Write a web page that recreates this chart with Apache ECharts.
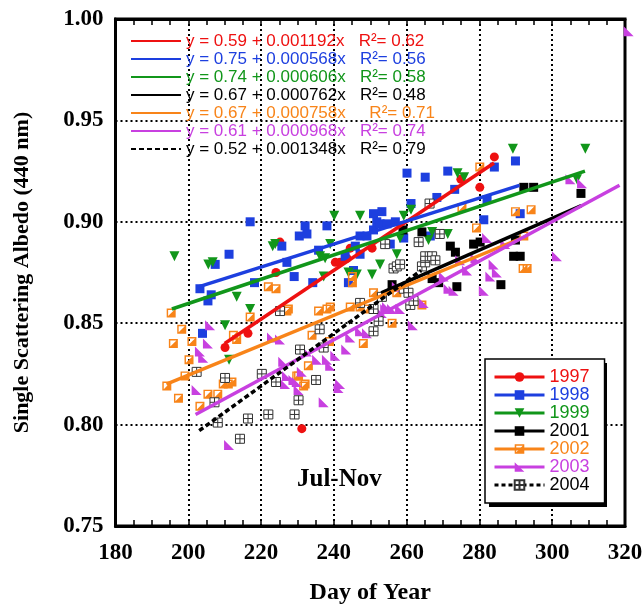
<!DOCTYPE html>
<html>
<head>
<meta charset="utf-8">
<script src="https://cdn.jsdelivr.net/npm/echarts@6/dist/echarts.min.js"></script>
<style>
  html, body { margin: 0; background: #fff; }
  #main { width: 644px; height: 610px; }
</style>
</head>
<body>
<div id="main"></div>
<script>
// years + styling lookups
const years = ['1997', '1998', '1999', '2001', '2002', '2003', '2004']
const colors = ['#ee1111', '#1d3fdf', '#11961a', '#000000', '#f88419', '#c840e0', '#000000']
const fitText = [
  'y = 0.59 + 0.001192x',
  'y = 0.75 + 0.000568x',
  'y = 0.74 + 0.000606x',
  'y = 0.67 + 0.000762x',
  'y = 0.67 + 0.000758x',
  'y = 0.61 + 0.000968x',
  'y = 0.52 + 0.001348x'
]
const r2Text = ['0.62', '0.56', '0.58', '0.48', '0.71', '0.74', '0.79']
const xTicks = [180, 320, 20]
const yTicks = [0.75, 1.0, 0.05]

// measured points [day, albedo]
const pts1997 = [[210.1, 0.838], [216.4, 0.845], [224.1, 0.875], [225.2, 0.890], [231.2, 0.798], [240.4, 0.880], [241.7, 0.880], [243.6, 0.882], [244.5, 0.887], [250.5, 0.887], [274.9, 0.921], [280.1, 0.917], [284.1, 0.932]]
const pts1998 = [[203.2, 0.867], [203.9, 0.845], [205.4, 0.861], [206.3, 0.864], [207.4, 0.879], [211.2, 0.884], [217.0, 0.900], [218.2, 0.870], [225.7, 0.888], [227.1, 0.880], [229.1, 0.873], [230.5, 0.893], [232.1, 0.898], [232.6, 0.894], [234.2, 0.870], [235.8, 0.886], [238.1, 0.898], [243.1, 0.883], [244.0, 0.870], [245.4, 0.876], [245.9, 0.888], [247.2, 0.884], [247.2, 0.893], [249.1, 0.893], [250.9, 0.896], [250.9, 0.904], [251.8, 0.900], [252.7, 0.899], [253.2, 0.905], [254.6, 0.899], [255.5, 0.889], [256.9, 0.900], [259.2, 0.892], [260.1, 0.924], [261.2, 0.909], [265.1, 0.922], [266.5, 0.893], [268.3, 0.912], [271.3, 0.925], [273.2, 0.916], [281.2, 0.901], [282.1, 0.911], [284.1, 0.927], [289.9, 0.930], [291.2, 0.904]]
const pts1999 = [[196.2, 0.883], [205.5, 0.879], [206.7, 0.880], [210.1, 0.849], [211.2, 0.832], [213.3, 0.863], [217.0, 0.857], [223.2, 0.888], [223.9, 0.889], [236.2, 0.883], [237.2, 0.873], [237.6, 0.882], [239.0, 0.889], [240.1, 0.903], [244.0, 0.875], [246.3, 0.874], [247.2, 0.903], [250.5, 0.874], [252.7, 0.879], [257.3, 0.884], [258.2, 0.892], [259.2, 0.903], [261.2, 0.906], [266.0, 0.891], [267.0, 0.895], [271.3, 0.894], [274.0, 0.924], [275.8, 0.922], [289.2, 0.936], [306.8, 0.921], [309.1, 0.936]]
const pts2001 = [[256.0, 0.869], [259.0, 0.896], [264.2, 0.895], [267.0, 0.872], [268.8, 0.870], [272.0, 0.888], [273.4, 0.885], [273.8, 0.868], [278.4, 0.889], [280.2, 0.890], [285.9, 0.869], [289.4, 0.883], [289.9, 0.891], [291.2, 0.883], [292.2, 0.917], [294.9, 0.917], [307.9, 0.914]]
const pts2002 = [[194.1, 0.819], [195.3, 0.855], [195.9, 0.840], [197.3, 0.813], [198.2, 0.847], [199.1, 0.824], [200.2, 0.832], [201.0, 0.841], [203.2, 0.809], [205.4, 0.815], [208.1, 0.815], [209.6, 0.820], [211.0, 0.820], [212.0, 0.821], [212.4, 0.844], [213.3, 0.842], [217.0, 0.853], [222.0, 0.868], [224.1, 0.867], [227.1, 0.856], [227.5, 0.857], [229.8, 0.824], [230.3, 0.824], [231.7, 0.819], [232.1, 0.820], [233.0, 0.829], [234.0, 0.844], [235.8, 0.856], [238.1, 0.857], [238.8, 0.841], [239.0, 0.858], [244.5, 0.858], [245.1, 0.870], [245.1, 0.873], [247.2, 0.858], [248.1, 0.840], [249.1, 0.857], [250.9, 0.865], [256.0, 0.850], [257.3, 0.865], [264.2, 0.859], [275.2, 0.907], [279.2, 0.897], [280.1, 0.927], [289.9, 0.905], [292.0, 0.877], [292.2, 0.893], [293.1, 0.877], [294.2, 0.906]]
const pts2003 = [[202.3, 0.817], [203.2, 0.836], [204.1, 0.833], [205.4, 0.840], [206.0, 0.849], [211.2, 0.790], [223.0, 0.843], [225.2, 0.842], [226.1, 0.831], [226.6, 0.820], [227.1, 0.824], [228.9, 0.822], [229.8, 0.821], [230.3, 0.817], [231.2, 0.826], [232.6, 0.836], [235.4, 0.832], [237.2, 0.811], [238.1, 0.832], [239.0, 0.829], [240.4, 0.834], [241.3, 0.818], [241.7, 0.820], [243.4, 0.837], [244.5, 0.843], [247.2, 0.846], [249.1, 0.845], [253.2, 0.855], [254.1, 0.857], [254.6, 0.858], [256.0, 0.857], [257.3, 0.868], [258.2, 0.857], [261.7, 0.849], [264.7, 0.860], [270.2, 0.873], [271.5, 0.867], [272.9, 0.866], [274.7, 0.881], [276.6, 0.876], [278.9, 0.882], [281.2, 0.866], [282.1, 0.892], [283.0, 0.873], [283.9, 0.879], [284.8, 0.875], [287.1, 0.889], [301.3, 0.883], [305.0, 0.921], [308.2, 0.919], [321.0, 0.994]]
const pts2004 = [[202.3, 0.826], [207.2, 0.811], [208.1, 0.801], [210.1, 0.823], [214.2, 0.793], [216.4, 0.803], [220.2, 0.825], [222.0, 0.805], [224.1, 0.821], [225.2, 0.856], [229.2, 0.805], [230.3, 0.812], [230.7, 0.837], [235.1, 0.822], [236.1, 0.847], [237.2, 0.838], [247.2, 0.860], [250.9, 0.846], [250.9, 0.857], [252.3, 0.851], [253.2, 0.863], [254.1, 0.889], [256.4, 0.877], [257.3, 0.878], [258.2, 0.879], [259.2, 0.867], [260.5, 0.865], [261.0, 0.859], [261.9, 0.861], [263.3, 0.890], [264.2, 0.878], [265.1, 0.880], [265.1, 0.883], [266.3, 0.909], [267.0, 0.883], [267.9, 0.881], [269.1, 0.894]]

// fitted line ends
const fit1997 = [[210, 0.840], [284, 0.929]]
const fit1998 = [[203, 0.868], [291, 0.918]]
const fit1999 = [[195.5, 0.857], [309, 0.925]]
const fit2001 = [[253, 0.865], [308, 0.908]]
const fit2002 = [[194, 0.820], [293, 0.893]]
const fit2003 = [[202, 0.805], [318.5, 0.918]]
const fit2004 = [[203, 0.797], [264, 0.876]]

const ptsList = [pts1997, pts1998, pts1999, pts2001, pts2002, pts2003, pts2004]
const fitList = [fit1997, fit1998, fit1999, fit2001, fit2002, fit2003, fit2004]

const serif = "'Liberation Serif', 'Times New Roman', serif"
const sans = "'Liberation Sans', Arial, sans-serif"

const symbols = [
  'circle',
  'rect',
  'path://M0 0 L10 0 L5 9 Z',
  'rect',
  'path://M0 0 L10 0 L10 10 L0 10 Z M1.6 1.6 L1.6 8.4 L8.4 8.4 L8.4 1.6 Z M8.4 1.6 L8.4 8.4 L1.6 8.4 Z',
  'path://M0 0 L0 10 L10 10 Z',
  'path://M0 0 H10 V10 H0 Z M5 0 V10 M0 5 H10'
]
const symSize = [9, 9, 10, 9, 9, 10, 9]

const chart = echarts.init(document.getElementById('main'))

const series = []
years.forEach((yr, i) => {
  series.push({
    name: yr,
    type: 'line',
    data: ptsList[i],
    symbol: symbols[i],
    symbolSize: symSize[i],
    showSymbol: true,
    clip: false,
    silent: true,
    z: 2,
    lineStyle: { width: 0, opacity: 0 },
    itemStyle: i === 6
      ? { color: '#fff', borderColor: '#333', borderWidth: 1 }
      : { color: colors[i], borderWidth: 0 }
  })
})
years.forEach((yr, i) => {
  series.push({
    name: 'fit' + yr,
    type: 'line',
    data: fitList[i],
    symbol: 'none',
    silent: true,
    z: 3,
    itemStyle: { color: colors[i] },
    lineStyle: { color: colors[i], width: 3.5, type: i === 6 ? [5, 3] : 'solid' }
  })
})

const axisLine = { show: true, onZero: false, lineStyle: { color: '#000', width: 3 } }
const dots = { show: true, lineStyle: { color: '#000', width: 2, type: [2, 3] } }
const tickLab = { color: '#000', fontFamily: serif, fontWeight: 'bold', fontSize: 23 }

chart.setOption({
  animation: false,
  backgroundColor: '#fff',
  grid: {
    left: 115.5, right: 19, top: 19, bottom: 84,
    show: true, borderColor: '#000', borderWidth: 3,
    containLabel: false, outerBoundsMode: 'none'
  },
  xAxis: [
    {
      type: 'value', min: xTicks[0], max: xTicks[1], interval: xTicks[2],
      axisLine: axisLine,
      axisTick: { show: true, inside: true, length: 6, lineStyle: { color: '#000', width: 1.5 } },
      minorTick: { show: true, splitNumber: 4, length: 6, lineStyle: { color: '#000', width: 1.5 } },
      splitLine: dots,
      axisLabel: Object.assign({ margin: 16, showMinLabel: true, showMaxLabel: true }, tickLab),
      name: 'Day of Year', nameLocation: 'middle', nameGap: 55,
      nameTextStyle: { color: '#000', fontFamily: serif, fontWeight: 'bold', fontSize: 24 }
    },
    {
      type: 'value', position: 'top', min: xTicks[0], max: xTicks[1], interval: xTicks[2],
      axisLine: axisLine,
      axisTick: { show: true, inside: true, length: 6, lineStyle: { color: '#000', width: 1.5 } },
      minorTick: { show: true, splitNumber: 4, length: 6, lineStyle: { color: '#000', width: 1.5 } },
      splitLine: { show: false },
      axisLabel: { show: false }
    }
  ],
  yAxis: {
    type: 'value', min: yTicks[0], max: yTicks[1], interval: yTicks[2],
    axisLine: axisLine,
    axisTick: { show: false },
    splitLine: dots,
    axisLabel: Object.assign({ margin: 12, showMinLabel: true, showMaxLabel: true, formatter: v => v.toFixed(2) }, tickLab),
    name: 'Single Scattering Albedo (440 nm)', nameLocation: 'middle', nameGap: 82, nameRotate: 90,
    nameTextStyle: { color: '#000', fontFamily: serif, fontWeight: 'bold', fontSize: 22 }
  },
  legend: [
    {
      orient: 'vertical', left: 130, top: 32, padding: 0, itemGap: 0,
      itemWidth: 50, itemHeight: 14, selectedMode: false,
      itemStyle: { opacity: 0 },
      data: years.map((yr, i) => ({ name: 'fit' + yr, textStyle: { color: colors[i] } })),
      formatter: name => {
        const i = years.indexOf(name.slice(3))
        return fitText[i] + (i === 4 ? '     ' : '   ') + 'R²= ' + r2Text[i]
      },
      textStyle: { fontFamily: sans, fontSize: 17, lineHeight: 18 }
    },
    {
      orient: 'vertical', left: 485, top: 359, padding: [9, 15, 9, 8], itemGap: 0,
      itemWidth: 50, itemHeight: 12, selectedMode: false,
      backgroundColor: '#fff', borderColor: '#000', borderWidth: 1.5,
      lineStyle: { width: 3, opacity: 1 },
      data: years.map((yr, i) => ({
        name: yr,
        textStyle: { color: colors[i] },
        lineStyle: i === 6 ? { color: '#000', type: [4, 3] } : { color: colors[i] }
      })),
      textStyle: { fontFamily: sans, fontSize: 18, lineHeight: 18 }
    }
  ],
  graphic: [
    {
      // drop shadow behind the year legend box
      type: 'rect', left: 489, top: 363, z: 3.5,
      shape: { width: 118, height: 144 },
      style: { fill: '#000' }
    },
    {
      type: 'text', left: 297, top: 467,
      style: { text: 'Jul-Nov', fill: '#000', font: 'bold 25px ' + serif }
    }
  ],
  series: series
})
</script>
</body>
</html>
